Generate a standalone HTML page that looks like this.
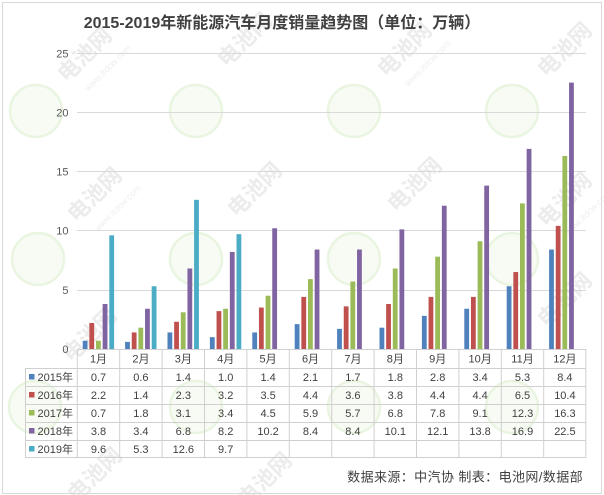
<!DOCTYPE html>
<html><head><meta charset="utf-8"><style>
html,body{margin:0;padding:0;background:#fff;}
svg{display:block;font-family:"Liberation Sans","Noto Sans CJK SC",sans-serif;}
</style></head><body>
<svg width="604" height="495" viewBox="0 0 604 495" xmlns="http://www.w3.org/2000/svg">
<rect x="0" y="0" width="604" height="495" fill="#fff"/>
<!-- watermark circles -->
<g fill="#f7fbf3" stroke="#e9f5e0" stroke-width="2.5">
<circle cx="36" cy="111" r="26"/><circle cx="196" cy="111" r="26"/><circle cx="354" cy="111" r="26"/><circle cx="512" cy="111" r="26"/>
<circle cx="38" cy="259" r="26"/><circle cx="196" cy="259" r="26"/><circle cx="354" cy="259" r="26"/><circle cx="512" cy="259" r="26"/>
<circle cx="35" cy="407" r="26"/><circle cx="196" cy="407" r="26"/><circle cx="354" cy="407" r="26"/><circle cx="512" cy="407" r="26"/>
</g>
<!-- watermark text -->
<g fill="#ececec" font-weight="bold" font-size="22">
<text transform="translate(90,60) rotate(-45)" text-anchor="middle">电池网</text>
<text transform="translate(250,45) rotate(-45)" text-anchor="middle">电池网</text>
<text transform="translate(410,55) rotate(-45)" text-anchor="middle">电池网</text>
<text transform="translate(570,55) rotate(-45)" text-anchor="middle">电池网</text>
<text transform="translate(100,200) rotate(-45)" text-anchor="middle">电池网</text>
<text transform="translate(260,195) rotate(-45)" text-anchor="middle">电池网</text>
<text transform="translate(420,190) rotate(-45)" text-anchor="middle">电池网</text>
<text transform="translate(570,205) rotate(-45)" text-anchor="middle">电池网</text>
<text transform="translate(95,340) rotate(-45)" text-anchor="middle">电池网</text>
<text transform="translate(570,305) rotate(-45)" text-anchor="middle">电池网</text>
<text transform="translate(100,480) rotate(-45)" text-anchor="middle">电池网</text>
<text transform="translate(270,485) rotate(-45)" text-anchor="middle">电池网</text>
</g>
<g fill="#efefef" font-size="9">
<text transform="translate(110,70) rotate(-45)" text-anchor="middle">www.itdcw.com</text>
<text transform="translate(430,65) rotate(-45)" text-anchor="middle">www.itdcw.com</text>
<text transform="translate(120,210) rotate(-45)" text-anchor="middle">www.itdcw.com</text>
<text transform="translate(590,215) rotate(-45)" text-anchor="middle">www.itdcw.com</text>
</g>
<!-- outer border -->
<rect x="2.5" y="2.5" width="599" height="491" fill="none" stroke="#d9d9d9" stroke-width="1"/>
<!-- title -->
<text x="282" y="28" text-anchor="middle" font-size="16" font-weight="bold" fill="#404040">2015-2019年新能源汽车月度销量趋势图（单位：万辆）</text>
<!-- gridlines -->
<g stroke="#d9d9d9" stroke-width="1">
<line x1="77" y1="53.5" x2="586" y2="53.5"/>
<line x1="77" y1="112.5" x2="586" y2="112.5"/>
<line x1="77" y1="171.5" x2="586" y2="171.5"/>
<line x1="77" y1="230.5" x2="586" y2="230.5"/>
<line x1="77" y1="290.5" x2="586" y2="290.5"/>
</g>
<!-- y labels -->
<g font-size="11" fill="#595959" text-anchor="end">
<text x="68.5" y="57.5">25</text>
<text x="68.5" y="116.5">20</text>
<text x="68.5" y="175.5">15</text>
<text x="68.5" y="234.5">10</text>
<text x="68.5" y="294">5</text>
<text x="68.5" y="353">0</text>
</g>
<!-- bars -->
<g id="bars">
<g transform="translate(77.3,349) scale(1,-11.84)">
<rect x="5.4" y="0" width="4.8" height="0.7" fill="#4F81BD"/><rect x="12.05" y="0" width="4.8" height="2.2" fill="#C0504D"/><rect x="18.7" y="0" width="4.8" height="0.7" fill="#9BBB59"/><rect x="25.35" y="0" width="4.8" height="3.8" fill="#8064A2"/><rect x="32" y="0" width="4.8" height="9.6" fill="#4BACC6"/></g>
<g transform="translate(119.7,349) scale(1,-11.84)">
<rect x="5.4" y="0" width="4.8" height="0.6" fill="#4F81BD"/><rect x="12.05" y="0" width="4.8" height="1.4" fill="#C0504D"/><rect x="18.7" y="0" width="4.8" height="1.8" fill="#9BBB59"/><rect x="25.35" y="0" width="4.8" height="3.4" fill="#8064A2"/><rect x="32" y="0" width="4.8" height="5.3" fill="#4BACC6"/></g>
<g transform="translate(162.1,349) scale(1,-11.84)">
<rect x="5.4" y="0" width="4.8" height="1.4" fill="#4F81BD"/><rect x="12.05" y="0" width="4.8" height="2.3" fill="#C0504D"/><rect x="18.7" y="0" width="4.8" height="3.1" fill="#9BBB59"/><rect x="25.35" y="0" width="4.8" height="6.8" fill="#8064A2"/><rect x="32" y="0" width="4.8" height="12.6" fill="#4BACC6"/></g>
<g transform="translate(204.5,349) scale(1,-11.84)">
<rect x="5.4" y="0" width="4.8" height="1.0" fill="#4F81BD"/><rect x="12.05" y="0" width="4.8" height="3.2" fill="#C0504D"/><rect x="18.7" y="0" width="4.8" height="3.4" fill="#9BBB59"/><rect x="25.35" y="0" width="4.8" height="8.2" fill="#8064A2"/><rect x="32" y="0" width="4.8" height="9.7" fill="#4BACC6"/></g>
<g transform="translate(246.9,349) scale(1,-11.84)">
<rect x="5.4" y="0" width="4.8" height="1.4" fill="#4F81BD"/><rect x="12.05" y="0" width="4.8" height="3.5" fill="#C0504D"/><rect x="18.7" y="0" width="4.8" height="4.5" fill="#9BBB59"/><rect x="25.35" y="0" width="4.8" height="10.2" fill="#8064A2"/></g>
<g transform="translate(289.3,349) scale(1,-11.84)">
<rect x="5.4" y="0" width="4.8" height="2.1" fill="#4F81BD"/><rect x="12.05" y="0" width="4.8" height="4.4" fill="#C0504D"/><rect x="18.7" y="0" width="4.8" height="5.9" fill="#9BBB59"/><rect x="25.35" y="0" width="4.8" height="8.4" fill="#8064A2"/></g>
<g transform="translate(331.7,349) scale(1,-11.84)">
<rect x="5.4" y="0" width="4.8" height="1.7" fill="#4F81BD"/><rect x="12.05" y="0" width="4.8" height="3.6" fill="#C0504D"/><rect x="18.7" y="0" width="4.8" height="5.7" fill="#9BBB59"/><rect x="25.35" y="0" width="4.8" height="8.4" fill="#8064A2"/></g>
<g transform="translate(374.1,349) scale(1,-11.84)">
<rect x="5.4" y="0" width="4.8" height="1.8" fill="#4F81BD"/><rect x="12.05" y="0" width="4.8" height="3.8" fill="#C0504D"/><rect x="18.7" y="0" width="4.8" height="6.8" fill="#9BBB59"/><rect x="25.35" y="0" width="4.8" height="10.1" fill="#8064A2"/></g>
<g transform="translate(416.5,349) scale(1,-11.84)">
<rect x="5.4" y="0" width="4.8" height="2.8" fill="#4F81BD"/><rect x="12.05" y="0" width="4.8" height="4.4" fill="#C0504D"/><rect x="18.7" y="0" width="4.8" height="7.8" fill="#9BBB59"/><rect x="25.35" y="0" width="4.8" height="12.1" fill="#8064A2"/></g>
<g transform="translate(458.9,349) scale(1,-11.84)">
<rect x="5.4" y="0" width="4.8" height="3.4" fill="#4F81BD"/><rect x="12.05" y="0" width="4.8" height="4.4" fill="#C0504D"/><rect x="18.7" y="0" width="4.8" height="9.1" fill="#9BBB59"/><rect x="25.35" y="0" width="4.8" height="13.8" fill="#8064A2"/></g>
<g transform="translate(501.3,349) scale(1,-11.84)">
<rect x="5.4" y="0" width="4.8" height="5.3" fill="#4F81BD"/><rect x="12.05" y="0" width="4.8" height="6.5" fill="#C0504D"/><rect x="18.7" y="0" width="4.8" height="12.3" fill="#9BBB59"/><rect x="25.35" y="0" width="4.8" height="16.9" fill="#8064A2"/></g>
<g transform="translate(543.7,349) scale(1,-11.84)">
<rect x="5.4" y="0" width="4.8" height="8.4" fill="#4F81BD"/><rect x="12.05" y="0" width="4.8" height="10.4" fill="#C0504D"/><rect x="18.7" y="0" width="4.8" height="16.3" fill="#9BBB59"/><rect x="25.35" y="0" width="4.8" height="22.5" fill="#8064A2"/></g>
</g>
<!-- table grid -->
<g stroke="#d0d0d0" stroke-width="1" fill="none">
<line x1="77" y1="349.5" x2="586" y2="349.5"/>
<line x1="25.5" y1="368.5" x2="586" y2="368.5"/>
<line x1="25.5" y1="386.5" x2="586" y2="386.5"/>
<line x1="25.5" y1="404.5" x2="586" y2="404.5"/>
<line x1="25.5" y1="422.5" x2="586" y2="422.5"/>
<line x1="25.5" y1="440.5" x2="586" y2="440.5"/>
<line x1="25.5" y1="457.5" x2="586" y2="457.5"/>
<line x1="25.5" y1="368" x2="25.5" y2="458"/>
<line x1="77.3" y1="349" x2="77.3" y2="458"/>
<line x1="119.7" y1="349" x2="119.7" y2="458"/>
<line x1="162.1" y1="349" x2="162.1" y2="458"/>
<line x1="204.5" y1="349" x2="204.5" y2="458"/>
<line x1="246.9" y1="349" x2="246.9" y2="458"/>
<line x1="289.3" y1="349" x2="289.3" y2="458"/>
<line x1="331.7" y1="349" x2="331.7" y2="458"/>
<line x1="374.1" y1="349" x2="374.1" y2="458"/>
<line x1="416.5" y1="349" x2="416.5" y2="458"/>
<line x1="458.9" y1="349" x2="458.9" y2="458"/>
<line x1="501.3" y1="349" x2="501.3" y2="458"/>
<line x1="543.7" y1="349" x2="543.7" y2="458"/>
<line x1="585.8" y1="349" x2="585.8" y2="458"/>
</g>
<!-- legend keys -->
<rect x="29" y="374" width="5.5" height="5.5" fill="#4F81BD"/>
<rect x="29" y="392" width="5.5" height="5.5" fill="#C0504D"/>
<rect x="29" y="410" width="5.5" height="5.5" fill="#9BBB59"/>
<rect x="29" y="428" width="5.5" height="5.5" fill="#8064A2"/>
<rect x="29" y="446" width="5.5" height="5.5" fill="#4BACC6"/>
<g font-size="11" fill="#404040">
<text x="37.5" y="381">2015年</text>
<text x="37.5" y="399">2016年</text>
<text x="37.5" y="417">2017年</text>
<text x="37.5" y="435">2018年</text>
<text x="37.5" y="453">2019年</text>
</g>
<!-- table text -->
<g font-size="11" fill="#404040" text-anchor="middle">
<text x="98.5" y="362.5">1月</text><text x="140.9" y="362.5">2月</text><text x="183.3" y="362.5">3月</text><text x="225.7" y="362.5">4月</text><text x="268.1" y="362.5">5月</text><text x="310.5" y="362.5">6月</text><text x="352.9" y="362.5">7月</text><text x="395.3" y="362.5">8月</text><text x="437.7" y="362.5">9月</text><text x="480.1" y="362.5">10月</text><text x="522.5" y="362.5">11月</text><text x="564.9" y="362.5">12月</text>

<text x="98.5" y="381">0.7</text><text x="140.9" y="381">0.6</text><text x="183.3" y="381">1.4</text><text x="225.7" y="381">1.0</text><text x="268.1" y="381">1.4</text><text x="310.5" y="381">2.1</text><text x="352.9" y="381">1.7</text><text x="395.3" y="381">1.8</text><text x="437.7" y="381">2.8</text><text x="480.1" y="381">3.4</text><text x="522.5" y="381">5.3</text><text x="564.9" y="381">8.4</text>

<text x="98.5" y="399">2.2</text><text x="140.9" y="399">1.4</text><text x="183.3" y="399">2.3</text><text x="225.7" y="399">3.2</text><text x="268.1" y="399">3.5</text><text x="310.5" y="399">4.4</text><text x="352.9" y="399">3.6</text><text x="395.3" y="399">3.8</text><text x="437.7" y="399">4.4</text><text x="480.1" y="399">4.4</text><text x="522.5" y="399">6.5</text><text x="564.9" y="399">10.4</text>

<text x="98.5" y="417">0.7</text><text x="140.9" y="417">1.8</text><text x="183.3" y="417">3.1</text><text x="225.7" y="417">3.4</text><text x="268.1" y="417">4.5</text><text x="310.5" y="417">5.9</text><text x="352.9" y="417">5.7</text><text x="395.3" y="417">6.8</text><text x="437.7" y="417">7.8</text><text x="480.1" y="417">9.1</text><text x="522.5" y="417">12.3</text><text x="564.9" y="417">16.3</text>

<text x="98.5" y="435">3.8</text><text x="140.9" y="435">3.4</text><text x="183.3" y="435">6.8</text><text x="225.7" y="435">8.2</text><text x="268.1" y="435">10.2</text><text x="310.5" y="435">8.4</text><text x="352.9" y="435">8.4</text><text x="395.3" y="435">10.1</text><text x="437.7" y="435">12.1</text><text x="480.1" y="435">13.8</text><text x="522.5" y="435">16.9</text><text x="564.9" y="435">22.5</text>

<text x="98.5" y="453">9.6</text><text x="140.9" y="453">5.3</text><text x="183.3" y="453">12.6</text><text x="225.7" y="453">9.7</text>
</g>
<!-- footer -->
<text x="583" y="481.5" text-anchor="end" font-size="13" fill="#404040" letter-spacing="0.4">数据来源：中汽协 制表：电池网/数据部</text>
</svg>
</body></html>
